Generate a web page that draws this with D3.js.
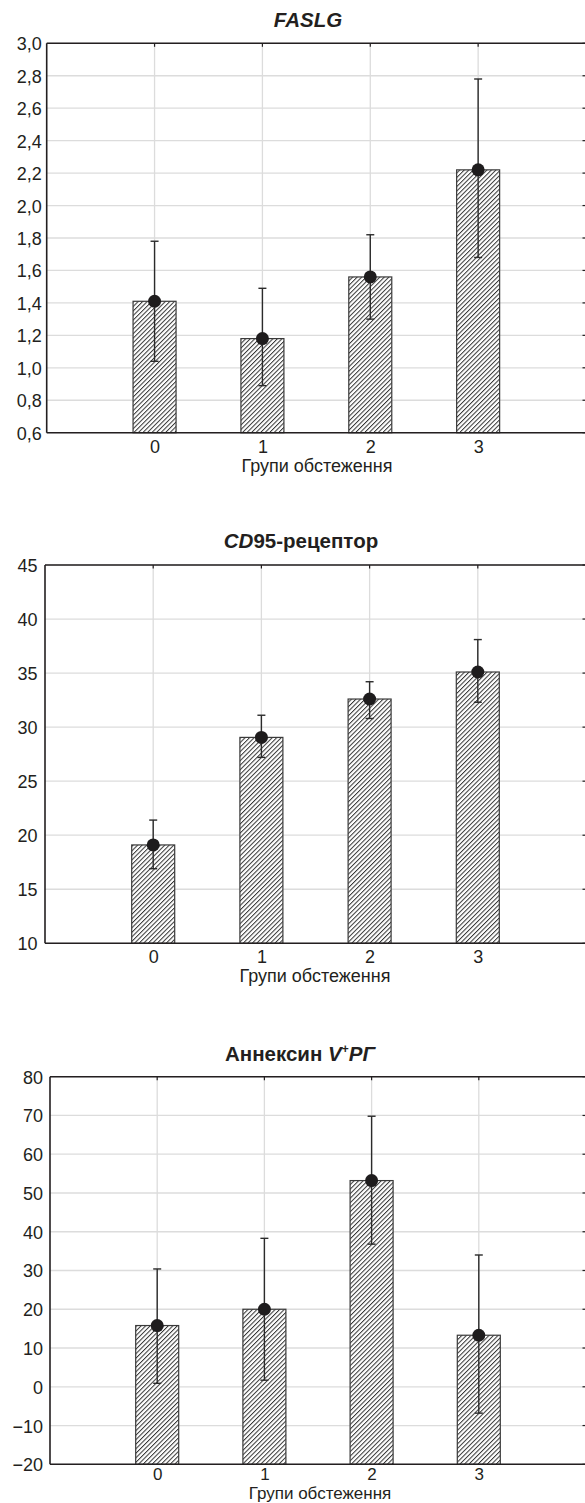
<!DOCTYPE html>
<html><head><meta charset="utf-8">
<script src="https://cdn.jsdelivr.net/npm/d3@7"></script>
<style>
body{margin:0;background:#fff}
svg text{font-family:"Liberation Sans",Arial,Helvetica,sans-serif;fill:#231f20}
</style>
</head><body>
<svg id="c" width="585" height="1503"></svg>
<script>
// ---- data ----
const groups = [0, 1, 2, 3];
const xTitle = "Групи обстеження";

const faslgMean = [1.41, 1.18, 1.56, 2.22];
const faslgLow  = [1.04, 0.89, 1.30, 1.68];
const faslgHigh = [1.78, 1.49, 1.82, 2.78];
const faslgTicks = [0.6, 0.8, 1.0, 1.2, 1.4, 1.6, 1.8, 2.0, 2.2, 2.4, 2.6, 2.8, 3.0];

const cd95Mean = [19.1, 29.05, 32.6, 35.1];
const cd95Low  = [16.9, 27.2, 30.8, 32.3];
const cd95High = [21.4, 31.1, 34.2, 38.1];
const cd95Ticks = [10, 15, 20, 25, 30, 35, 40, 45];

const annexMean = [15.8, 20.0, 53.2, 13.3];
const annexLow  = [0.9, 1.7, 36.8, -6.8];
const annexHigh = [30.4, 38.3, 69.8, 34.0];
const annexTicks = [-20, -10, 0, 10, 20, 30, 40, 50, 60, 70, 80];

// ---- drawing ----
const svg = d3.select("#c");
const defs = svg.append("defs");
const pat = defs.append("pattern").attr("id", "hatch")
  .attr("patternUnits", "userSpaceOnUse").attr("width", 3.2).attr("height", 3.2)
  .attr("patternTransform", "rotate(45)");
pat.append("rect").attr("width", 3.2).attr("height", 3.2).attr("fill", "#fff");
pat.append("line").attr("x1", 0.5).attr("y1", 0).attr("x2", 0.5).attr("y2", 3.2)
  .attr("stroke", "#333").attr("stroke-width", 1.0);

const RIGHT = 586;
const AX = "#231f20";
const FS = 18;

function drawChart(o) {
  const x = d3.scaleLinear().domain([-1, 4]).range([o.left, RIGHT]);
  const y = d3.scaleLinear().domain([o.ticks[0], o.ticks[o.ticks.length - 1]]).range([o.bottom, o.top]);
  const g = svg.append("g");

  // grid
  g.append("g").selectAll("line").data(o.ticks).join("line")
    .attr("x1", o.left).attr("x2", RIGHT)
    .attr("y1", d => y(d)).attr("y2", d => y(d))
    .attr("stroke", "#dcdcdc").attr("stroke-width", 1.3);
  g.append("g").selectAll("line").data(groups).join("line")
    .attr("x1", d => x(d)).attr("x2", d => x(d))
    .attr("y1", o.top).attr("y2", o.bottom)
    .attr("stroke", "#dcdcdc").attr("stroke-width", 1.3);

  // bars
  const bw = 43;
  g.append("g").selectAll("rect").data(groups).join("rect")
    .attr("x", d => x(d) - bw / 2).attr("width", bw)
    .attr("y", (d, i) => y(o.mean[i]))
    .attr("height", (d, i) => y(o.ticks[0]) - y(o.mean[i]))
    .attr("fill", "url(#hatch)").attr("stroke", "#3a3a3a").attr("stroke-width", 1.2);

  // error bars
  const eb = g.append("g").attr("stroke", "#2b2b2b").attr("stroke-width", 1.4);
  eb.selectAll("line.v").data(groups).join("line").attr("class", "v")
    .attr("x1", d => x(d)).attr("x2", d => x(d))
    .attr("y1", (d, i) => y(o.low[i])).attr("y2", (d, i) => y(o.high[i]));
  eb.selectAll("line.t").data(groups).join("line").attr("class", "t")
    .attr("x1", d => x(d) - 4).attr("x2", d => x(d) + 4)
    .attr("y1", (d, i) => y(o.high[i])).attr("y2", (d, i) => y(o.high[i]));
  eb.selectAll("line.b").data(groups).join("line").attr("class", "b")
    .attr("x1", d => x(d) - 4).attr("x2", d => x(d) + 4)
    .attr("y1", (d, i) => y(o.low[i])).attr("y2", (d, i) => y(o.low[i]));

  // dots
  g.append("g").selectAll("circle").data(groups).join("circle")
    .attr("cx", d => x(d)).attr("cy", (d, i) => y(o.mean[i]))
    .attr("r", 6.5).attr("fill", "#1e1c1d");

  // frame
  const fr = g.append("g").attr("stroke", AX).attr("fill", "none");
  fr.append("line").attr("x1", o.left).attr("x2", o.left).attr("y1", o.top).attr("y2", o.bottom).attr("stroke-width", 1.6);
  fr.append("line").attr("x1", o.left).attr("x2", RIGHT).attr("y1", o.top).attr("y2", o.top).attr("stroke-width", 1.6);
  fr.append("line").attr("x1", o.left).attr("x2", RIGHT).attr("y1", o.bottom).attr("y2", o.bottom).attr("stroke-width", 1.6);
  fr.selectAll("line.tt").data(groups).join("line").attr("class", "tt")
    .attr("x1", d => x(d)).attr("x2", d => x(d)).attr("y1", o.top).attr("y2", o.top + 3.5).attr("stroke-width", 1.2);
  fr.selectAll("line.rt").data(o.ticks).join("line").attr("class", "rt")
    .attr("x1", RIGHT - 3.5).attr("x2", RIGHT).attr("y1", d => y(d)).attr("y2", d => y(d)).attr("stroke-width", 1.2);

  // y axis labels
  const ya = d3.axisLeft(y).tickValues(o.ticks).tickSize(0).tickPadding(o.pad).tickFormat(o.fmt);
  const yg = g.append("g").attr("transform", `translate(${o.left},0)`).call(ya);
  yg.select(".domain").remove();
  yg.selectAll("text").attr("font-size", FS).attr("fill", AX).attr("dy", "0.36em");

  // x axis labels
  const xfs = o.xfs || FS;
  const xa = d3.axisBottom(x).tickValues(groups).tickSize(0).tickPadding(0).tickFormat(d3.format("d"));
  const xg = g.append("g").attr("transform", `translate(0,${o.bottom})`).call(xa);
  xg.select(".domain").remove();
  xg.selectAll("text").attr("font-size", xfs).attr("fill", AX).attr("dy", null)
    .attr("y", o.xLabY - o.bottom);

  g.append("text").attr("x", o.xTitleX).attr("y", o.xTitleY)
    .attr("text-anchor", "middle").attr("font-size", xfs).text(xTitle);

  // title
  const t = g.append("text").attr("x", o.titleX).attr("y", o.titleY)
    .attr("text-anchor", "middle").attr("font-size", o.titleSize).attr("font-weight", "bold");
  o.title.forEach(p => {
    const s = t.append("tspan").text(p.t);
    if (p.i) s.attr("font-style", "italic");
    if (p.sup) s.attr("font-size", 12).attr("dy", -8);
    if (p.down) s.attr("dy", p.down);
  });
}

const commaFmt = d => d3.format(".1f")(d).replace(".", ",");

drawChart({
  top: 43.3, bottom: 432.7, left: 46.7, pad: 5,
  ticks: faslgTicks, mean: faslgMean, low: faslgLow, high: faslgHigh, fmt: commaFmt,
  xLabY: 453.5, xTitleX: 317, xTitleY: 472,
  titleX: 308, titleY: 26.7, titleSize: 20.5, title: [{ t: "FASLG", i: true }]
});

drawChart({
  top: 565, bottom: 943.3, left: 45, pad: 7.5,
  ticks: cd95Ticks, mean: cd95Mean, low: cd95Low, high: cd95High, fmt: d3.format("d"),
  xLabY: 963.5, xTitleX: 315, xTitleY: 982,
  titleX: 301, titleY: 548.3, titleSize: 20.5, title: [{ t: "CD", i: true }, { t: "95-рецептор" }]
});

drawChart({
  top: 1076.7, bottom: 1464.3, left: 50, pad: 7, xfs: 17,
  ticks: annexTicks, mean: annexMean, low: annexLow, high: annexHigh, fmt: d3.format("d"),
  xLabY: 1480.5, xTitleX: 320, xTitleY: 1498.5,
  titleX: 300, titleY: 1060.7, titleSize: 20.5, title: [{ t: "Аннексин " }, { t: "V", i: true }, { t: "+", sup: true }, { t: "РГ", i: true, down: 8 }]
});
</script>
</body></html>
